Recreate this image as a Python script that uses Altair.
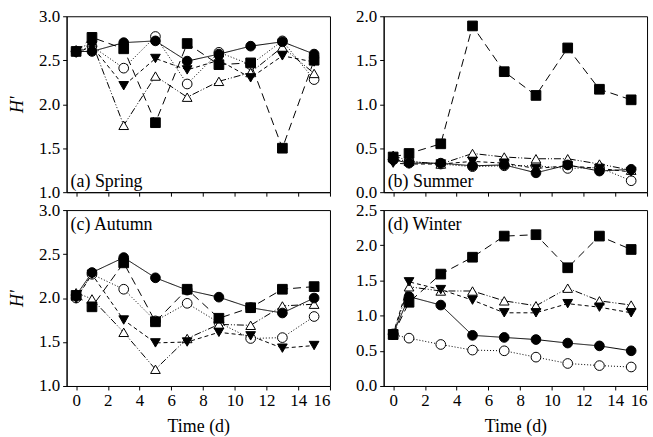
import altair as alt
import pandas as pd

times = [0, 1, 3, 5, 7, 9, 11, 13, 15]
series_keys = ["fc", "oc", "dt", "ut", "sq"]
draw_order = ["oc", "ut", "dt", "sq", "fc"]

spring_fc = [2.60, 2.60, 2.70, 2.72, 2.49, 2.57, 2.66, 2.71, 2.57]
spring_oc = [2.60, 2.66, 2.41, 2.77, 2.23, 2.59, 2.45, 2.72, 2.28]
spring_dt = [2.58, 2.66, 2.21, 2.52, 2.39, 2.50, 2.30, 2.55, 2.48]
spring_ut = [2.62, 2.70, 1.76, 2.32, 2.08, 2.26, 2.36, 2.65, 2.35]
spring_sq = [2.60, 2.76, 2.63, 1.79, 2.69, 2.45, 2.47, 1.50, 2.50]

summer_fc = [0.37, 0.33, 0.33, 0.30, 0.31, 0.22, 0.31, 0.24, 0.26]
summer_oc = [0.37, 0.35, 0.32, 0.29, 0.30, 0.30, 0.27, 0.28, 0.13]
summer_dt = [0.33, 0.32, 0.32, 0.35, 0.33, 0.27, 0.30, 0.27, 0.23]
summer_ut = [0.42, 0.35, 0.32, 0.44, 0.40, 0.38, 0.38, 0.32, 0.25]
summer_sq = [0.40, 0.44, 0.55, 1.89, 1.37, 1.10, 1.64, 1.17, 1.05]

autumn_fc = [2.03, 2.29, 2.46, 2.23, 2.09, 2.01, 1.89, 1.83, 2.00]
autumn_oc = [2.00, 2.27, 2.10, 1.74, 1.94, 1.72, 1.54, 1.55, 1.79]
autumn_dt = [1.99, 2.27, 1.75, 1.49, 1.50, 1.61, 1.57, 1.43, 1.46]
autumn_ut = [2.06, 1.99, 1.61, 1.19, 1.54, 1.70, 1.69, 1.91, 1.93]
autumn_sq = [2.03, 1.90, 2.40, 1.73, 2.10, 1.77, 1.89, 2.10, 2.13]

winter_fc = [0.74, 1.27, 1.15, 0.72, 0.69, 0.66, 0.61, 0.57, 0.50]
winter_oc = [0.73, 0.68, 0.59, 0.51, 0.50, 0.41, 0.32, 0.29, 0.27]
winter_dt = [0.74, 1.48, 1.37, 1.22, 1.04, 1.04, 1.17, 1.12, 1.04]
winter_ut = [0.74, 1.41, 1.35, 1.35, 1.21, 1.14, 1.39, 1.21, 1.15]
winter_sq = [0.73, 1.19, 1.59, 1.83, 2.13, 2.15, 1.68, 2.13, 1.94]

panel_labels = ["(a) Spring", "(b) Summer", "(c) Autumn", "(d) Winter"]
x_ticks = [0, 2, 4, 6, 8, 10, 12, 14, 16]
y_ticks_a = [1.0, 1.5, 2.0, 2.5, 3.0]
y_ticks_b = [0.0, 0.5, 1.0, 1.5, 2.0]
y_ticks_c = [1.0, 1.5, 2.0, 2.5, 3.0]
y_ticks_d = [0.0, 0.5, 1.0, 1.5, 2.0, 2.5]

FONT = "Liberation Serif"
W, H = 265, 177

dash_range = [[1, 0], [1, 2], [4, 3], [7, 2, 1, 2, 1, 2], [8, 5]]
shape_range = ["circle", "circle", "triangle-down", "triangle-up", "square"]
fill_range = ["black", "white", "black", "white", "black"]


def make_df(vals):
    rows = []
    for key in draw_order:
        for t, v in zip(times, vals[key]):
            rows.append({"series": key, "time": t, "value": v})
    return pd.DataFrame(rows)


def panel(vals, ydom, yticks, label, top_row, left_col):
    df = make_df(vals)
    xenc = alt.X(
        "time:Q",
        scale=alt.Scale(domain=[-0.6, 16], nice=False, zero=False),
        axis=alt.Axis(values=x_ticks, labels=not top_row,
                      title=None if top_row else "Time (d)",
                      format="d", titlePadding=9),
    )
    yenc = alt.Y(
        "value:Q",
        scale=alt.Scale(domain=ydom, nice=False, zero=False),
        axis=alt.Axis(values=yticks, format=".1f",
                      title="H'" if left_col else None,
                      titleFontStyle="italic", titlePadding=12),
    )
    base = alt.Chart(df)
    lines = base.mark_line(color="black", strokeWidth=1).encode(
        x=xenc, y=yenc,
        detail="series:N",
        strokeDash=alt.StrokeDash("series:N", scale=alt.Scale(domain=series_keys, range=dash_range), legend=None),
    )
    pts = base.mark_point(filled=True, opacity=1, size=95, stroke="black", strokeWidth=1).encode(
        x=xenc, y=yenc,
        shape=alt.Shape("series:N", scale=alt.Scale(domain=series_keys, range=shape_range), legend=None),
        fill=alt.Fill("series:N", scale=alt.Scale(domain=series_keys, range=fill_range), legend=None),
    )
    lab = alt.Chart(pd.DataFrame({"t": [label]})).mark_text(
        font=FONT, fontSize=18, align="left", baseline="alphabetic", color="black"
    ).encode(
        text="t:N",
        x=alt.value(4),
        y=alt.value(172 if top_row else 20),
    )
    return alt.layer(lines, pts, lab).properties(width=W, height=H)


pa = panel({"fc": spring_fc, "oc": spring_oc, "dt": spring_dt, "ut": spring_ut, "sq": spring_sq},
           [1, 3], y_ticks_a, panel_labels[0], True, True)
pb = panel({"fc": summer_fc, "oc": summer_oc, "dt": summer_dt, "ut": summer_ut, "sq": summer_sq},
           [0, 2], y_ticks_b, panel_labels[1], True, False)
pc = panel({"fc": autumn_fc, "oc": autumn_oc, "dt": autumn_dt, "ut": autumn_ut, "sq": autumn_sq},
           [1, 3], y_ticks_c, panel_labels[2], False, True)
pd_ = panel({"fc": winter_fc, "oc": winter_oc, "dt": winter_dt, "ut": winter_ut, "sq": winter_sq},
            [0, 2.5], y_ticks_d, panel_labels[3], False, False)

chart = alt.concat(pa, pb, pc, pd_, columns=2, spacing={"row": 18, "column": 54}, bounds="flush").properties(
    padding={"left": 8, "top": 5, "right": 5, "bottom": 5},
    background="white",
).configure_view(
    stroke="black", strokeWidth=1
).configure_axis(
    labelFont=FONT, labelFontSize=17, labelColor="black", labelPadding=3,
    tickColor="black", tickSize=4, tickWidth=1,
    domainColor="black", domainWidth=1, grid=False,
    titleFont=FONT, titleFontSize=18, titleFontWeight="normal", titleColor="black",
)

chart.save("out.html", embed_options={"renderer": "svg", "actions": False})
